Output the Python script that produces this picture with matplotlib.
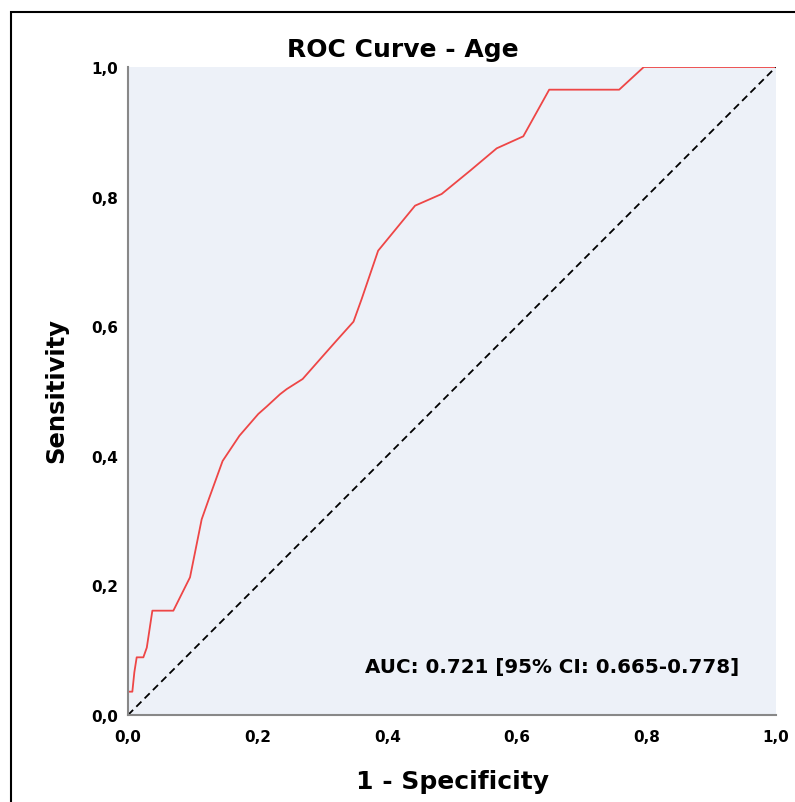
import matplotlib.pyplot as plt
from matplotlib.patches import Rectangle
from matplotlib.ticker import FuncFormatter

plt.rcParams['font.family'] = ['DejaVu Sans']

# ROC points
fpr = [0.0, 0.0, 0.0067, 0.0098, 0.0134, 0.0237, 0.029, 0.0376, 0.070,
       0.0957, 0.1137, 0.125, 0.146, 0.172, 0.201, 0.214, 0.2346, 0.245,
       0.2695, 0.299, 0.322, 0.348, 0.3606, 0.386, 0.443, 0.484, 0.528,
       0.569, 0.610, 0.650, 0.758, 0.796, 1.0]
tpr = [0.0, 0.036, 0.036, 0.066, 0.089, 0.089, 0.104, 0.161, 0.161,
       0.2125, 0.302, 0.334, 0.392, 0.431, 0.4645, 0.476, 0.495, 0.503,
       0.5185, 0.552, 0.578, 0.607, 0.642, 0.7165, 0.786, 0.804, 0.840,
       0.8745, 0.893, 0.965, 0.965, 1.0, 1.0]

ticks = [0.0, 0.2, 0.4, 0.6, 0.8, 1.0]
auc_text = "AUC: 0.721 [95% CI: 0.665-0.778]"

fig = plt.figure(figsize=(7.95, 8.03), dpi=100)
ax = fig.add_axes([128/795, 1 - 716/803, 648/795, 648/803])
ax.set_facecolor('#EDF1F8')

ax.plot(fpr, tpr, color='#EE4646', linewidth=1.3)
ax.plot([0, 1], [0, 1], color='black', linestyle='--', linewidth=1.3, dashes=(4, 2.5))

ax.set_xlim(0, 1)
ax.set_ylim(0, 1)
ax.set_xticks(ticks)
ax.set_yticks(ticks)
fmt = FuncFormatter(lambda v, p: f"{v:.1f}".replace('.', ','))
ax.xaxis.set_major_formatter(fmt)
ax.yaxis.set_major_formatter(fmt)
ax.tick_params(length=0, labelsize=11)
ax.tick_params(axis='x', pad=10)
ax.tick_params(axis='y', pad=7)
for lab in ax.get_xticklabels() + ax.get_yticklabels():
    lab.set_fontweight('bold')

for s in ['top', 'right']:
    ax.spines[s].set_visible(False)
for s in ['left', 'bottom']:
    ax.spines[s].set_color('#888888')
    ax.spines[s].set_linewidth(1.5)

# title sits centred on the whole figure, not on the plot area
fig.text(403/795, 1 - 57/803, "ROC Curve - Age", fontsize=18, fontweight='bold',
         ha='center', va='baseline')
ax.set_xlabel("1 - Specificity", fontsize=18, fontweight='bold')
ax.set_ylabel("Sensitivity", fontsize=17.5, fontweight='bold')
ax.xaxis.set_label_coords(0.5, -0.083)
ax.yaxis.set_label_coords(-0.092, 0.503)

ax.text(0.944, 0.0756, auc_text, fontsize=14.3, fontweight='bold',
        ha='right', va='center', transform=ax.transAxes)

# outer frame, cut by the image edges
fig.patches.append(Rectangle((11/795, -0.1), 1.2, 1 - 13/803 + 0.1,
                             transform=fig.transFigure, fill=False,
                             edgecolor='black', linewidth=1.5))

plt.savefig("out.png", dpi=100)
